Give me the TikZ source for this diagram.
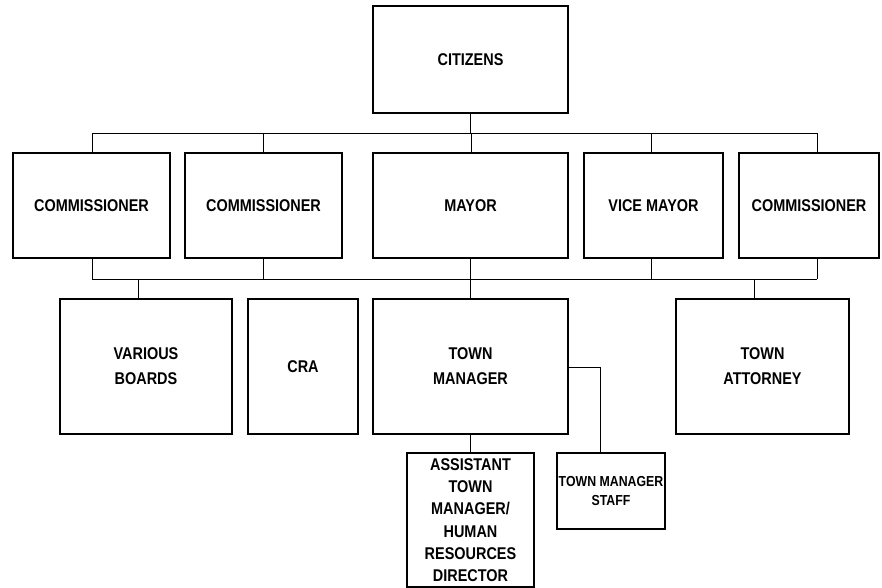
\documentclass[tikz,border=0pt]{standalone}
\usepackage{fontspec}
\setmainfont[FakeStretch=0.85]{Liberation Sans}
\begin{document}
\begin{tikzpicture}[x=1pt,y=-1pt,
  box/.style={draw,line width=1.7pt,rectangle,inner sep=0pt,align=center,
    font=\fontsize{17}{25}\selectfont\bfseries},
  conn/.style={line width=0.8pt}]
\useasboundingbox (0,0) rectangle (882,588);
% nodes
\node[box,minimum width=195,minimum height=107] (cit) at (470.5,59.5) {CITIZENS};
\node[box,minimum width=157,minimum height=105] (c1) at (91.5,205.5) {COMMISSIONER};
\node[box,minimum width=157,minimum height=105] (c2) at (263.5,205.5) {COMMISSIONER};
\node[box,minimum width=195,minimum height=105] (mayor) at (470.5,205.5) {MAYOR};
\node[box,minimum width=139,minimum height=105] (vice) at (653.5,205.5) {VICE MAYOR};
\node[box,minimum width=140,minimum height=105] (c3) at (809,205.5) {COMMISSIONER};
\node[box,minimum width=172,minimum height=135] (boards) at (146,366.5) {VARIOUS\\BOARDS};
\node[box,minimum width=110,minimum height=135] (cra) at (303,366.5) {CRA};
\node[box,minimum width=195,minimum height=135] (tm) at (470.5,366.5) {TOWN\\MANAGER};
\node[box,minimum width=173,minimum height=135] (att) at (762.5,366.5) {TOWN\\ATTORNEY};
\node[box,minimum width=127,minimum height=134,font=\fontsize{17}{22.3}\selectfont\bfseries] (asst) at (470.5,520) {ASSISTANT\\TOWN\\MANAGER/\\HUMAN\\RESOURCES\\DIRECTOR};
\node[box,minimum width=108,minimum height=76,font=\fontsize{14.5}{19.7}\selectfont\bfseries] (staff) at (611,491) {TOWN MANAGER\\STAFF};
% bus coordinates
\coordinate (d1) at (92,133);
\coordinate (d2) at (263,133);
\coordinate (d3) at (471,133);
\coordinate (d4) at (651,133);
\coordinate (d5) at (817,133);
\coordinate (e1) at (92,279);
\coordinate (e2) at (263,279);
\coordinate (e4) at (651,279);
\coordinate (e5) at (817,279);
\coordinate (f1) at (138,279);
\coordinate (f3) at (754,279);
\coordinate (g) at (600,367);
% connectors
\draw[conn] (cit.south) -- (cit.south |- d1);
\draw[conn] (d1) -- (d5);
\draw[conn] (d1) -- (d1 |- c1.north);
\draw[conn] (d2) -- (d2 |- c2.north);
\draw[conn] (d3) -- (d3 |- mayor.north);
\draw[conn] (d4) -- (d4 |- vice.north);
\draw[conn] (d5) -- (d5 |- c3.north);
\draw[conn] (e1) -- (e5);
\draw[conn] (e1) -- (e1 |- c1.south);
\draw[conn] (e2) -- (e2 |- c2.south);
\draw[conn] (mayor.south) -- (tm.north);
\draw[conn] (e4) -- (e4 |- vice.south);
\draw[conn] (e5) -- (e5 |- c3.south);
\draw[conn] (f1) -- (f1 |- boards.north);
\draw[conn] (f3) -- (f3 |- att.north);
\draw[conn] (tm.east |- g) -- (g) -- (g |- staff.north);
\draw[conn] (tm.south) -- (asst.north);
\end{tikzpicture}
\end{document}
